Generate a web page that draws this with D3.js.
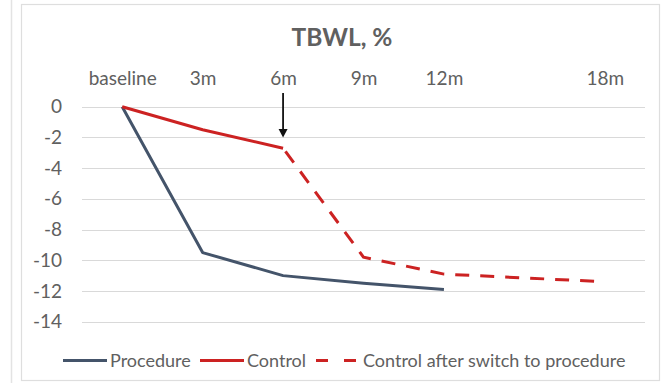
<!DOCTYPE html>
<html>
<head>
<meta charset="utf-8">
<script src="https://cdn.jsdelivr.net/npm/d3@7"></script>
<style>
  html, body { margin: 0; padding: 0; background: #fff; }
  svg { display: block; font-family: Lato, "Open Sans", sans-serif; }
</style>
</head>
<body>
<svg id="chart" width="672" height="383"></svg>
<script>
// Time points (months) and their axis labels
const months = [0, 3, 6, 9, 12, 18];
const monthLabels = ["baseline", "3m", "6m", "9m", "12m", "18m"];

// Total body weight loss, % (by month)
const procedureMonths = [0, 3, 6, 9, 12];
const procedureValues = [0, -9.5, -11.0, -11.5, -11.9];

const controlMonths = [0, 3, 6];
const controlValues = [0, -1.5, -2.7];

const switchMonths = [6, 9, 12, 18];
const switchValues = [-2.7, -9.8, -10.9, -11.4];

const yTicks = [0, -2, -4, -6, -8, -10, -12, -14];

// Switch marker: arrow at 6 months, from above the axis down to the control line
const switchArrow = { month: 6, from: 0.9, to: -2.0 };

const seriesNames = ["Procedure", "Control", "Control after switch to procedure"];
const colors = { procedure: "#44546a", control: "#cc2222", grid: "#d9d9d9", text: "#606060" };

const svg = d3.select("#chart");

// Chart frame (and the edge of the neighbouring panel)
svg.append("line").attr("x1", 11.5).attr("x2", 11.5).attr("y1", 0).attr("y2", 383)
  .attr("stroke", "#e3e3e3").attr("stroke-width", 1.5);
svg.append("rect").attr("x", 21.5).attr("y", 4.5).attr("width", 638).attr("height", 376)
  .attr("fill", "#fff").attr("stroke", "#dedede").attr("stroke-width", 1.2);

// Category-style positions: one slot per 3 months, plus half a slot of padding at each end
const x = d3.scaleLinear().domain([-1.5, 19.5]).range([82, 645]);
const y = d3.scaleLinear().domain([-14, 0]).range([321.7, 106.7]);

// Title
svg.append("text")
  .attr("x", 342).attr("y", 46)
  .attr("text-anchor", "middle")
  .attr("font-size", 24.5).attr("font-weight", 700)
  .attr("fill", colors.text)
  .text("TBWL, %");

// Horizontal gridlines
svg.append("g").selectAll("line").data(yTicks).join("line")
  .attr("x1", x.range()[0]).attr("x2", x.range()[1])
  .attr("y1", d => Math.round(y(d)) + 0.5).attr("y2", d => Math.round(y(d)) + 0.5)
  .attr("stroke", colors.grid).attr("stroke-width", 1);

// Value axis (left)
const yAxis = svg.append("g")
  .attr("transform", `translate(${x.range()[0]},0)`)
  .call(d3.axisLeft(y).tickValues(yTicks).tickSize(0).tickPadding(20).tickFormat(d => String(d)));
yAxis.select(".domain").remove();
yAxis.selectAll("text").attr("font-size", 19).attr("fill", colors.text).attr("font-family", "Lato, sans-serif");

// Time axis labels (top)
const xAxis = svg.append("g")
  .attr("transform", `translate(0,${y(0)})`)
  .call(d3.axisTop(x).tickValues(months).tickSize(0).tickPadding(21.5)
    .tickFormat((d, i) => monthLabels[i]));
xAxis.select(".domain").remove();
xAxis.selectAll("text").attr("font-size", 19).attr("fill", colors.text).attr("font-family", "Lato, sans-serif");

// Series lines
const line = d3.line().x(d => x(d[0])).y(d => y(d[1]));

svg.append("path")
  .datum(d3.zip(procedureMonths, procedureValues))
  .attr("d", line).attr("fill", "none")
  .attr("stroke", colors.procedure).attr("stroke-width", 3).attr("stroke-linejoin", "round");

svg.append("path")
  .datum(d3.zip(controlMonths, controlValues))
  .attr("d", line).attr("fill", "none")
  .attr("stroke", colors.control).attr("stroke-width", 3).attr("stroke-linejoin", "round");

svg.append("path")
  .datum(d3.zip(switchMonths, switchValues))
  .attr("d", line).attr("fill", "none")
  .attr("stroke", colors.control).attr("stroke-width", 3)
  .attr("stroke-dasharray", "14,11").attr("stroke-dashoffset", -4);

// Arrow marking the switch
const ax = x(switchArrow.month);
const tipY = y(switchArrow.to);
svg.append("line")
  .attr("x1", ax).attr("x2", ax)
  .attr("y1", y(switchArrow.from)).attr("y2", tipY - 6)
  .attr("stroke", "#111").attr("stroke-width", 1.8);
svg.append("path")
  .attr("d", `M${ax - 4.5},${tipY - 8.5}L${ax + 4.5},${tipY - 8.5}L${ax},${tipY}Z`)
  .attr("fill", "#111");

// Legend
const legendItems = [
  { name: seriesNames[0], color: colors.procedure, dash: null, x: 63 },
  { name: seriesNames[1], color: colors.control, dash: null, x: 200 },
  { name: seriesNames[2], color: colors.control, dash: "12,16", x: 316 }
];
const legend = svg.append("g").attr("transform", "translate(0,360.5)");
const item = legend.selectAll("g").data(legendItems).join("g")
  .attr("transform", d => `translate(${d.x},0)`);
item.append("line")
  .attr("x1", 0).attr("x2", d => d.dash ? 40 : 44).attr("y1", 0).attr("y2", 0)
  .attr("stroke", d => d.color).attr("stroke-width", 3)
  .attr("stroke-dasharray", d => d.dash);
item.append("text")
  .attr("x", 47).attr("y", 0).attr("dy", "0.35em")
  .attr("font-size", 18).attr("fill", colors.text)
  .text(d => d.name);
</script>
</body>
</html>
